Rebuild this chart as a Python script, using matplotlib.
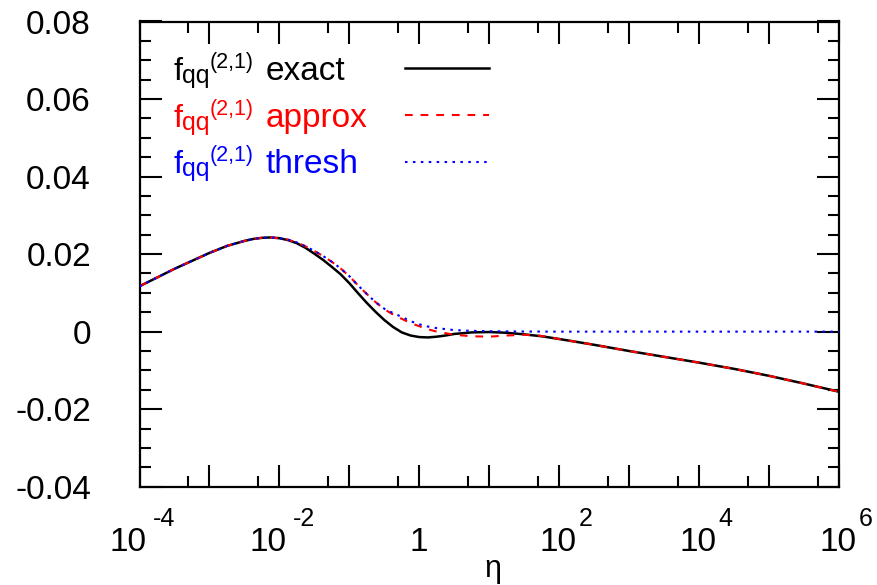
import numpy as np
import matplotlib
matplotlib.use("Agg")
import matplotlib.pyplot as plt
import matplotlib.transforms as mtransforms
from matplotlib.ticker import FixedLocator, NullFormatter, MultipleLocator
from matplotlib.lines import Line2D

plt.rcParams['font.family'] = ['Liberation Sans', 'DejaVu Sans']
plt.rcParams['axes.unicode_minus'] = False

# ---------------- data ----------------
log_eta_exact = [-4.0, -3.5, -3.0, -2.75, -2.5, -2.375, -2.25, -2.125, -2.0, -1.875,
                 -1.75, -1.625, -1.5, -1.375, -1.25, -1.125, -1.0, -0.875, -0.75, -0.625,
                 -0.5, -0.375, -0.25, -0.125, 0.0, 0.125, 0.25, 0.375, 0.5, 0.75,
                 1.0, 1.25, 1.5, 1.75, 2.0, 2.5, 3.0, 3.5, 4.0, 4.5,
                 5.0, 5.5, 6.0]
f_exact = [0.0117, 0.0162, 0.0203, 0.0221, 0.0234, 0.0239, 0.0242, 0.0243, 0.0241, 0.0236,
           0.0228, 0.0216, 0.0201, 0.0185, 0.0167, 0.0148, 0.0125, 0.0099, 0.0074, 0.0051,
           0.0030, 0.0012, -0.0002, -0.0010, -0.0014, -0.0015, -0.0013, -0.0010, -0.0006, -0.0002,
           -0.0001, -0.0003, -0.0007, -0.0012, -0.0019, -0.0034, -0.0050, -0.0065, -0.0080, -0.0096,
           -0.0114, -0.0134, -0.0155]

log_eta_approx = [-4.0, -3.5, -3.0, -2.75, -2.5, -2.375, -2.25, -2.125, -2.0, -1.875,
                  -1.75, -1.625, -1.5, -1.375, -1.25, -1.125, -1.0, -0.875, -0.75, -0.625,
                  -0.5, -0.375, -0.25, -0.125, 0.0, 0.125, 0.25, 0.5, 0.75, 1.0,
                  1.25, 1.5, 1.75, 2.0, 2.5, 3.0, 3.5, 4.0, 4.5, 5.0,
                  5.5, 6.0]
f_approx = [0.0117, 0.0162, 0.0203, 0.0221, 0.0234, 0.0239, 0.0242, 0.0243, 0.0241, 0.0237,
            0.0230, 0.0220, 0.0208, 0.0195, 0.0180, 0.0163, 0.0143, 0.0119, 0.0097, 0.0076,
            0.0058, 0.0044, 0.0033, 0.0022, 0.0014, 0.0006, 0.0000, -0.0008, -0.0012, -0.0013,
            -0.0010, -0.0008, -0.0011, -0.0019, -0.0034, -0.0050, -0.0065, -0.0080, -0.0096, -0.0114,
            -0.0134, -0.0155]

log_eta_thresh = [-4.0, -3.5, -3.0, -2.75, -2.5, -2.375, -2.25, -2.125, -2.0, -1.875,
                  -1.75, -1.625, -1.5, -1.375, -1.25, -1.125, -1.0, -0.875, -0.75, -0.625,
                  -0.5, -0.375, -0.25, -0.125, 0.0, 0.125, 0.25, 0.5, 0.75, 1.0,
                  1.5, 2.0, 3.0, 4.0, 5.0, 6.0]
f_thresh = [0.0117, 0.0162, 0.0203, 0.0221, 0.0234, 0.0239, 0.0242, 0.0243, 0.0241, 0.0237,
            0.0230, 0.0220, 0.0208, 0.0195, 0.0180, 0.0163, 0.0143, 0.0119, 0.0097, 0.0076,
            0.0059, 0.0048, 0.0038, 0.0027, 0.0019, 0.0013, 0.0009, 0.0004, 0.0002, 0.0001,
            0.00003, 0.0, 0.0, 0.0, 0.0, 0.0]

y_ticks = [-0.04, -0.02, 0.0, 0.02, 0.04, 0.06, 0.08]
y_tick_labels = ['-0.04', '-0.02', '0', '0.02', '0.04', '0.06', '0.08']
x_label_exponents = [-4, -2, 0, 2, 4, 6]
legend_names = ['exact', 'approx', 'thresh']
legend_colors = ['black', 'red', 'blue']

# ---------------- figure ----------------
W, H = 877, 585
fig = plt.figure(figsize=(W / 100, H / 100), dpi=100)
L, R, T, B = 139.5, 839.0, 21.5, 486.7
ax = fig.add_axes([L / W, 1 - B / H, (R - L) / W, (B - T) / H])

ax.set_xscale('log')
ax.set_xlim(1e-4, 1e6)
ax.set_ylim(-0.04, 0.08)

ax.plot(10.0 ** np.array(log_eta_exact), f_exact, color='black', lw=1.8, zorder=3)
ax.plot(10.0 ** np.array(log_eta_approx), f_approx, color='red', lw=1.5,
        dashes=(3.7, 3.8), zorder=4)
ax.plot(10.0 ** np.array(log_eta_thresh), f_thresh, color='blue', lw=1.5,
        dashes=(1.2, 2.6), zorder=5)

# ticks
ax.xaxis.set_major_locator(FixedLocator(10.0 ** np.arange(-4, 7)))
ax.xaxis.set_minor_locator(FixedLocator(5 * 10.0 ** np.arange(-4, 6)))
ax.xaxis.set_major_formatter(NullFormatter())
ax.xaxis.set_minor_formatter(NullFormatter())
ax.set_yticks(y_ticks)
ax.set_yticklabels(y_tick_labels)
ax.yaxis.set_minor_locator(MultipleLocator(0.005))
ax.tick_params(which='both', direction='in', top=True, right=True, width=1.5)
ax.tick_params(which='major', length=15.5)
ax.tick_params(which='minor', length=8)
ax.tick_params(axis='y', labelsize=24, pad=35)
for s in ax.spines.values():
    s.set_linewidth(1.6)

# x tick labels (10 with superscript exponent)
trans = mtransforms.blended_transform_factory(ax.transData, fig.transFigure)
base_y = 1 - 551 / H
exp_y = 1 - 526 / H
for e in x_label_exponents:
    xv = 10.0 ** e
    if e == 0:
        t = mtransforms.offset_copy(trans, fig=fig, x=-1, y=0, units='dots')
        ax.text(xv, base_y, '1', transform=t, ha='center', va='baseline',
                fontsize=24, clip_on=False)
        continue
    dx = 6.8 if e < 0 else 17.5
    gap = 7 if e < 0 else 2
    t1 = mtransforms.offset_copy(trans, fig=fig, x=dx, y=0, units='dots')
    ax.text(xv, base_y, '10', transform=t1, ha='right', va='baseline',
            fontsize=24, clip_on=False)
    t2 = mtransforms.offset_copy(trans, fig=fig, x=dx + gap, y=0, units='dots')
    ax.text(xv, exp_y, str(e), transform=t2, ha='left', va='baseline',
            fontsize=18, clip_on=False)

fig.text(493 / W, 1 - 577 / H, 'η', ha='center', va='baseline', fontsize=22)

# legend (text on the left, line sample on the right)
def fx(px):
    return px / W

def fy(py):
    return 1 - py / H

row_base = [80.0, 126.7, 173.3]
sample_y = [68.0, 115.0, 161.7]
styles = [dict(lw=1.8), dict(lw=1.5, dashes=(3.7, 3.8)), dict(lw=1.5, dashes=(1.2, 2.6))]
for name, col, yb, ys, st in zip(legend_names, legend_colors, row_base, sample_y, styles):
    fig.text(fx(174), fy(yb), 'f', color=col, fontsize=23, ha='left', va='baseline')
    fig.text(fx(182), fy(yb + 3), 'qq', color=col, fontsize=18, ha='left', va='baseline')
    fig.text(fx(210), fy(yb - 12), '(2,1)', color=col, fontsize=15.5, ha='left', va='baseline')
    fig.text(fx(266), fy(yb), name, color=col, fontsize=24, ha='left', va='baseline')
    fig.add_artist(Line2D([fx(405), fx(489)], [fy(ys), fy(ys)], color=col, **st))

fig.savefig('out.png', dpi=100)
